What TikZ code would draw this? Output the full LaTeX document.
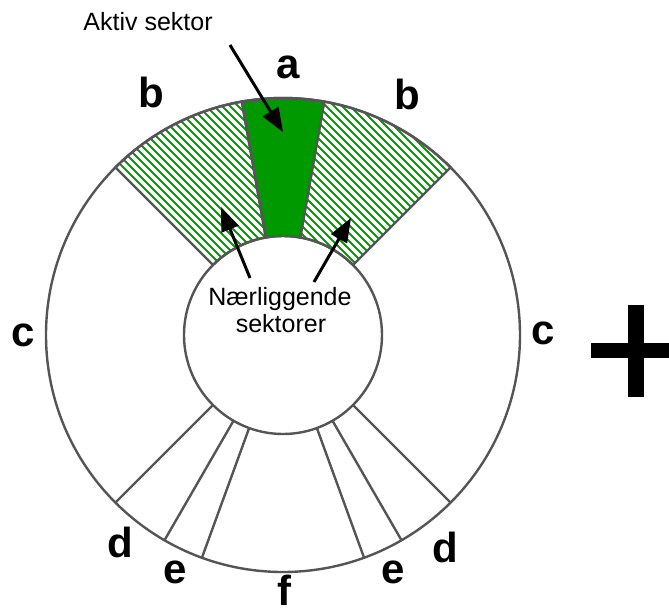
\documentclass[tikz,border=0pt]{standalone}
\usepackage{fontspec}
\setmainfont{Liberation Sans}
\usetikzlibrary{arrows.meta}
\definecolor{rim}{HTML}{555555}
\definecolor{sectorgreen}{HTML}{009900}
% annular sector between two angles, on the ring around (O)
\newcommand\annsec[2]{([shift={(#1:\Ro)}]O) arc[start angle=#1,end angle=#2,radius=\Ro] -- ([shift={(#2:\Ri)}]O) arc[start angle=#2,end angle=#1,radius=\Ri] -- cycle}
\begin{document}
\begin{tikzpicture}[x=1pt,y=-1pt,
  rimline/.style={draw=rim,line width=2.4pt},
  letter/.style={font=\fontsize{42}{50}\selectfont\bfseries,anchor=base,inner sep=0pt},
  caption/.style={font=\fontsize{25}{29}\selectfont,anchor=base,inner sep=0pt},
  pointer/.style={-{Triangle[length=24pt,width=18pt]},line width=3pt,black}]
\useasboundingbox (0,0) rectangle (669,613);
\def\Ro{237}\def\Ri{99}
\coordinate (O) at (283,335);

% hatched neighbour sectors
\begin{scope}
  \clip \annsec{-135}{-100} \annsec{-80}{-45};
  \foreach \k in {-260,-252,...,460}
    \draw[sectorgreen,line width=2pt] (\k,0) -- ++(400,400);
\end{scope}
\draw[rimline] \annsec{-135}{-100};
\draw[rimline] \annsec{-80}{-45};

% active sector
\draw[rimline,fill=sectorgreen] \annsec{-100}{-80};

% ring
\draw[rimline] (O) circle[radius=\Ro];
\draw[rimline] (O) circle[radius=\Ri];
\foreach \t in {45,60,70,110,120,135}
  \draw[rimline] ([shift={(\t:\Ri)}]O) -- ([shift={(\t:\Ro)}]O);

% sector letters
\node[letter] (la)  at (288,78)  {a};
\node[letter] (lb1) at (151,107) {b};
\node[letter] (lb2) at (407,109) {b};
\node[letter] (lc1) at (23,346)  {c};
\node[letter] (lc2) at (543,344) {c};
\node[letter] (ld1) at (120,557) {d};
\node[letter] (ld2) at (445,562) {d};
\node[letter] (le1) at (175,583) {e};
\node[letter] (le2) at (393,583) {e};
\node[letter] (lf)  at (284,605) {f};

% captions and pointers
\node[caption] (aktiv) at (148,30) {Aktiv sektor};
\node[caption] (naer1) at (280,305) {Nærliggende};
\node[caption] (naer2) at (281,332) {sektorer};

\coordinate (aktivtail) at (230,45);
\coordinate (aktivtip)  at (283,132);
\coordinate (ltail) at (250,278);
\coordinate (ltip)  at (221,207);
\coordinate (rtail) at (314,282);
\coordinate (rtip)  at (351,218);
\draw[pointer] (aktivtail) -- (aktivtip);
\draw[pointer] (ltail) -- (ltip);
\draw[pointer] (rtail) -- (rtip);

% plus sign
\fill[black] (628,305) rectangle (644,397);
\fill[black] (591,343) rectangle (669,358);
\end{tikzpicture}
\end{document}
